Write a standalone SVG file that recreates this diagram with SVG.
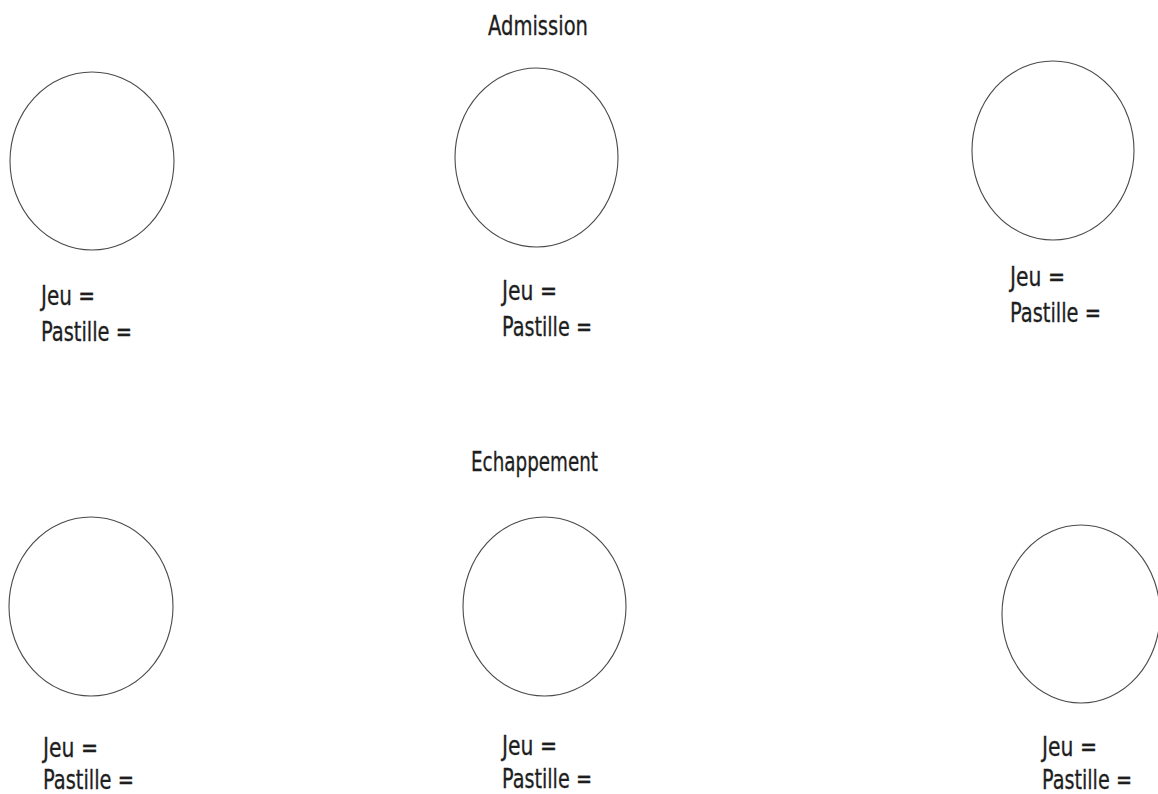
<svg xmlns="http://www.w3.org/2000/svg" width="1158" height="794" viewBox="0 0 1158 794">
<style>
.c{fill:#fff;stroke:#4a4a4a;stroke-width:1.1}
.t{font-family:"DejaVu Sans Condensed","Liberation Sans Narrow","Liberation Sans",sans-serif;font-size:26px;fill:#1e1e1e;stroke:#1e1e1e;stroke-width:0.3}
</style>
<rect width="1158" height="794" fill="#fff"/>
<text class="t" x="488" y="35" textLength="100" lengthAdjust="spacingAndGlyphs">Admission</text>
<text class="t" x="471" y="471" textLength="127" lengthAdjust="spacingAndGlyphs">Echappement</text>
<g id="adm1">
<ellipse class="c" cx="92" cy="161" rx="82" ry="89"/>
<text class="t" x="41" y="305" textLength="54" lengthAdjust="spacingAndGlyphs">Jeu =</text>
<text class="t" x="41" y="341" textLength="91" lengthAdjust="spacingAndGlyphs">Pastille =</text>
</g>
<g id="adm2">
<ellipse class="c" cx="536.5" cy="157.5" rx="81.5" ry="89.5"/>
<text class="t" x="502" y="300" textLength="55" lengthAdjust="spacingAndGlyphs">Jeu =</text>
<text class="t" x="502" y="336" textLength="90" lengthAdjust="spacingAndGlyphs">Pastille =</text>
</g>
<g id="adm3">
<ellipse class="c" cx="1053" cy="150.5" rx="81" ry="89.5"/>
<text class="t" x="1010" y="286" textLength="55" lengthAdjust="spacingAndGlyphs">Jeu =</text>
<text class="t" x="1010" y="322" textLength="91" lengthAdjust="spacingAndGlyphs">Pastille =</text>
</g>
<g id="ech1">
<ellipse class="c" cx="91" cy="606.5" rx="82" ry="89.5"/>
<text class="t" x="43" y="757" textLength="55" lengthAdjust="spacingAndGlyphs">Jeu =</text>
<text class="t" x="43" y="789" textLength="91" lengthAdjust="spacingAndGlyphs">Pastille =</text>
</g>
<g id="ech2">
<ellipse class="c" cx="544.5" cy="606.5" rx="81.5" ry="89.5"/>
<text class="t" x="502" y="755" textLength="55" lengthAdjust="spacingAndGlyphs">Jeu =</text>
<text class="t" x="502" y="788" textLength="90" lengthAdjust="spacingAndGlyphs">Pastille =</text>
</g>
<g id="ech3">
<ellipse class="c" cx="1081" cy="614" rx="79" ry="89"/>
<text class="t" x="1042" y="756" textLength="55" lengthAdjust="spacingAndGlyphs">Jeu =</text>
<text class="t" x="1042" y="789" textLength="90" lengthAdjust="spacingAndGlyphs">Pastille =</text>
</g>
<g id="connectors"/>
</svg>
